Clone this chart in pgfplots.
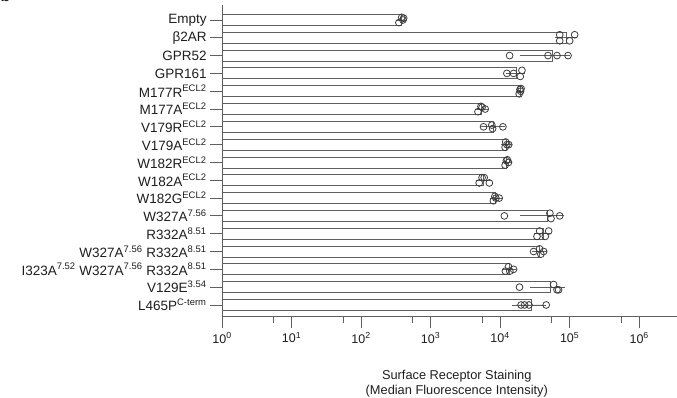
\documentclass[border=0pt]{standalone}
\usepackage{pgfplots}
\pgfplotsset{compat=1.18}
\usepackage{pgfplotstable}
\usepackage{fontspec}
\setmainfont{Liberation Sans}
\definecolor{txt}{RGB}{30,30,30}
\definecolor{ln}{RGB}{95,95,95}
\definecolor{pt}{RGB}{60,60,60}

% category index: 16 = Empty (top) ... 0 = L465P (bottom)
\pgfplotstableread{
y mean sd
16 385 25
15 90500 22500
14 55800 33900
13 17000 3500
12 19400 550
11 5400 550
10 8100 2200
9 12400 700
8 12500 650
7 5850 850
6 8700 700
5 47400 25500
4 41300 7000
3 37000 5000
2 13600 1500
1 53200 23200
0 28600 11800
}\bars

\pgfplotstableread{
x y
350 15.85
385 16.15
400 16.0
410 16.1
72000 15.17
72000 14.83
100000 14.83
118000 15.17
13700 14
48800 14
65800 14
94800 14
12500 13
15600 13
19500 12.83
20600 13.17
18800 11.85
19300 12.1
19700 12.0
20000 12.15
4800 10.85
5300 11.15
5500 11.1
6100 11.0
5770 10.0
7600 10.1
7800 9.9
10970 10.0
11800 8.85
12000 9.15
12500 9.0
13300 9.0
11800 7.85
12300 8.1
12700 8.15
13200 8.0
5000 6.85
5500 7.15
5900 7.15
7000 6.85
8000 5.85
8400 6.1
8700 6.0
9700 6.0
11500 5.0
52000 5.15
54000 4.85
72000 5.0
33900 3.85
37000 4.15
44600 3.85
49900 4.15
30300 3.0
37000 3.15
38500 2.85
42300 3.0
11900 1.9
13200 2.15
13800 1.9
15600 2.0
19000 1.0
58800 1.15
65800 0.85
69300 0.85
20000 0.0
22500 0.0
26000 0.0
46000 0.0
}\pts

\begin{document}
\begin{tikzpicture}
\useasboundingbox (0pt,0pt) rectangle (677pt,397pt);
\node[anchor=base west, font=\bfseries\fontsize{16}{16}\selectfont, text=txt] at (-3pt,395pt) {b};
\begin{axis}[
  at={(222pt,81pt)}, anchor=south west,
  scale only axis, width=455pt, height=311pt,
  xmode=log, log basis x=10,
  xmin=1, xmax=3.5e6,
  ymin=-0.62, ymax=16.84,
  axis lines*=left,
  axis line style={ln, line width=0.9pt},
  clip=false,
  xtick={1,10,100,1000,10000,100000,1000000},
  xticklabels={10\textsuperscript{0},10\textsuperscript{1},10\textsuperscript{2},10\textsuperscript{3},10\textsuperscript{4},10\textsuperscript{5},10\textsuperscript{6}},
  minor xtick={5.5,55,550,5500,55000,550000},
  ytick={0,...,16},
  yticklabels={L465P\textsuperscript{C-term},V129E\textsuperscript{3.54},I323A\textsuperscript{7.52} W327A\textsuperscript{7.56} R332A\textsuperscript{8.51},W327A\textsuperscript{7.56} R332A\textsuperscript{8.51},R332A\textsuperscript{8.51},W327A\textsuperscript{7.56},W182G\textsuperscript{ECL2},W182A\textsuperscript{ECL2},W182R\textsuperscript{ECL2},V179A\textsuperscript{ECL2},V179R\textsuperscript{ECL2},M177A\textsuperscript{ECL2},M177R\textsuperscript{ECL2},GPR161,GPR52,β2AR,Empty},
  tick align=outside,
  major tick length=12pt, minor tick length=7pt,
  tick style={ln, line width=0.9pt},
  xticklabel style={font=\fontsize{12.5}{14}\selectfont, text=txt, yshift=-1pt},
  yticklabel style={font=\fontsize{13.5}{15}\selectfont, text=txt},
  xlabel={Surface Receptor Staining\\(Median Fluorescence Intensity)},
  xlabel style={at={(axis description cs:0.516,0)}, anchor=north, yshift=-51pt, align=center, font=\fontsize{12.8}{14.5}\selectfont, text=txt},
]
\addplot[xbar, bar width=11pt, draw=ln, fill=white, line width=0.9pt,
  error bars/.cd, x dir=both, x explicit,
  error bar style={ln, line width=0.9pt},
  error mark options={mark size=3.5pt, line width=0.9pt}]
  table[x=mean, y=y, x error=sd]{\bars};
\addplot[only marks, mark=o, mark size=3.4pt, mark options={line width=0.8pt}, color=pt]
  table[x=x, y=y]{\pts};
\end{axis}
\end{tikzpicture}
\end{document}
